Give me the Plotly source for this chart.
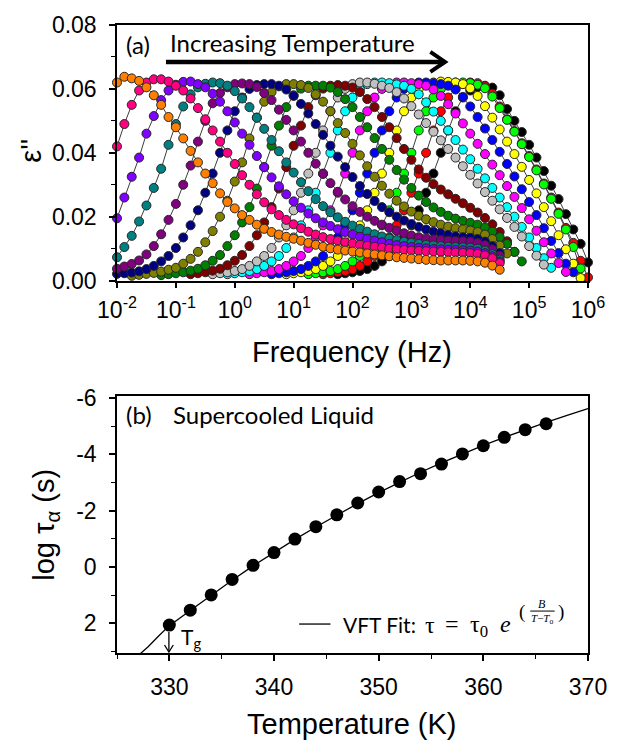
import plotly.graph_objects as go

# ---------------- Panel (a) data: dielectric loss spectra ----------------
# shared measurement grid (log10 of frequency in Hz)
FREQ_LOG = [-2.0, -1.875, -1.75, -1.625, -1.5, -1.375, -1.25, -1.125, -1.0, -0.875,
            -0.75, -0.625, -0.5, -0.375, -0.25, -0.125, 0.0, 0.125, 0.25, 0.375,
            0.5, 0.625, 0.75, 0.875, 1.0, 1.125, 1.25, 1.375, 1.5, 1.625,
            1.75, 1.875, 2.0, 2.125, 2.25, 2.375, 2.5, 2.625, 2.75, 2.875,
            3.0, 3.125, 3.25, 3.375, 3.5, 3.625, 3.75, 3.875, 4.0, 4.125,
            4.25, 4.375, 4.5, 4.625, 4.75, 4.875, 5.0, 5.125, 5.25, 5.375,
            5.5, 5.625, 5.75, 5.875, 6.0]

# eps'' values in units of 1e-3, each curve starts at grid index START_*
START_ORANGE = 0
EPS_ORANGE = [62, 63.8, 63.3, 62.5, 60.5, 58, 55, 51.2, 48, 44.5,
              40.6, 37, 33.5, 30.5, 27.3, 24.6, 22.6, 20.5, 19, 17.5,
              16.2, 15.2, 14.4, 13.7, 13.1, 12.5, 11.8, 11.2, 10.6, 10.1,
              9.7, 9.4, 9.1, 8.8, 8.5, 8.2, 7.9, 7.6, 7.3, 7.1,
              6.9, 6.7, 6.5, 6.4, 6.3, 6.3, 6.3, 6.3, 6.2, 6.0,
              5.6, 4.7, 3.4]
START_PINK = 0
EPS_PINK = [42, 49, 55, 59.5, 62, 63, 63, 62.3, 61, 59.5,
            57, 54, 50.5, 47, 43.5, 40, 36.5, 33, 30, 27,
            24.5, 22.3, 20.5, 19, 17.6, 16.4, 15.3, 14.4, 13.6, 13,
            12.5, 12, 11.6, 11.2, 10.9, 10.6, 10.3, 10, 9.8, 9.6,
            9.4, 9.3, 9.2, 9.1, 9.0, 8.9, 8.8, 8.7, 8.6, 8.4,
            7.9, 7.0, 5.5]
START_VIOLET = 0
EPS_VIOLET = [19.5, 26, 32.5, 38.5, 46, 51.5, 56.5, 59.5, 61.3, 62.2,
              62.3, 61.5, 60.5, 58.5, 56, 53, 49.5, 46, 42.5, 39,
              35.5, 32.3, 29.5, 27, 24.8, 22.8, 21, 19.5, 18.2, 17.1,
              16.1, 15.2, 14.4, 13.7, 13.1, 12.5, 12, 11.5, 11.1, 10.8,
              10.5, 10.3, 10.1, 9.9, 9.8, 9.7, 9.6, 9.5, 9.4, 9.1,
              8.6, 7.6, 6.0]
START_TEAL = 0
EPS_TEAL = [7.3, 10.5, 14, 18.5, 23.5, 29, 35, 42.5, 49, 54.5,
            58.3, 60.5, 61.6, 62, 61.8, 61, 59.3, 57, 54.3, 51,
            47.5, 44, 40.5, 37, 33.8, 30.8, 28, 25.5, 23.3, 21.4,
            19.8, 18.4, 17.2, 16.2, 15.3, 14.5, 13.8, 13.2, 12.7, 12.2,
            11.8, 11.5, 11.2, 11, 10.8, 10.6, 10.5, 10.4, 10.3, 10,
            9.4, 8.3, 6.6]
START_PURPLE = 0
EPS_PURPLE = [3.7, 4.4, 5.2, 6.3, 8.2, 10.8, 14.5, 19, 24, 30,
              36, 43.5, 50, 55.5, 58.7, 60.5, 61.5, 61.7, 61.5, 60.6,
              58.7, 56.5, 53.5, 50.3, 47, 43.5, 40, 36.6, 33.4, 30.5,
              27.8, 25.4, 23.3, 21.5, 20, 18.7, 17.5, 16.5, 15.6, 14.8,
              14.1, 13.6, 13.2, 12.9, 12.7, 12.5, 12.4, 12.3, 12.2, 11.8,
              11.1, 9.8, 7.8]
START_NAVY = 0
EPS_NAVY = [2.1, 2.3, 2.5, 2.9, 3.6, 4.6, 6.0, 7.7, 10.2, 13.5,
            17.3, 22, 27.5, 33.5, 40, 47, 53, 57.3, 60, 61.2,
            61.5, 61.5, 61, 59.8, 57.8, 55.3, 52.3, 49, 45.6, 42.2,
            38.8, 35.5, 32.4, 29.6, 27.1, 24.9, 23, 21.4, 20, 18.8,
            17.7, 16.8, 16, 15.3, 14.8, 14.3, 13.9, 13.6, 13.4, 13,
            12.2, 10.8, 8.6]
START_OLIVE = 2
EPS_OLIVE = [1.5, 1.8, 2.1, 2.4, 2.8, 3.4, 4.0, 5.3, 6.8, 9,
             12, 15.5, 20, 25, 31, 37, 44.5, 51, 56, 59,
             60.8, 61.5, 61.5, 61.2, 60.3, 58.3, 56, 53, 49.3, 46.2,
             42.8, 39.2, 35.8, 32.5, 29.7, 27.2, 25, 23.2, 21.6, 20.3,
             19.2, 18.3, 17.5, 16.9, 16.4, 16, 15.7, 15.2, 14.4, 13,
             11, 8.5]
START_GREEN = 6
EPS_GREEN = [1.7, 2.0, 2.3, 2.6, 3.1, 3.7, 4.8, 6.2, 8, 10.8,
             14.2, 18.2, 23, 28.8, 35.5, 42.2, 48.5, 54.3, 58, 60.1,
             61, 61, 61, 60.4, 59, 56.8, 54.3, 51.2, 48, 44.6,
             41.2, 37.8, 34.6, 31.6, 29, 26.6, 24.6, 22.9, 21.5, 20.3,
             19.4, 18.7, 18.1, 17.5, 16.6, 15.3, 13.6, 11.5, 9, 6]
START_DARKRED = 10
EPS_DARKRED = [2.0, 2.3, 2.6, 3.1, 3.7, 4.8, 6.2, 8, 10.8, 14.2,
               18.2, 23, 28.8, 35.5, 42.2, 48.5, 54.3, 58, 60.1, 61,
               61.2, 61, 60.4, 59, 56.8, 54.3, 51.2, 48, 44.6, 41.2,
               37.8, 34.8, 32.2, 30.2, 28.5, 27, 25.6, 24.2, 22.8, 21.3,
               19.6, 17.6, 15.2, 12.3, 9]
START_GRAY = 13
EPS_GRAY = [2.0, 2.3, 2.6, 3.0, 3.6, 4.6, 6.0, 7.7, 10.2, 13.5,
            17.3, 22, 27.5, 33.5, 40, 47, 53, 57.3, 60, 61.5,
            62, 62, 61.6, 61, 60.3, 59, 57, 54.6, 52, 49.3,
            46.6, 43.9, 41.2, 38.5, 35.8, 33.1, 30.4, 27.7, 25, 22.3,
            19.6, 16.8, 13.8, 10.8, 7.8, 5.0]
START_CYAN = 15
EPS_CYAN = [2.0, 2.3, 2.6, 3.0, 3.6, 4.6, 6.0, 7.7, 10.2, 13.5,
            17.3, 22, 27.5, 33.5, 40, 47, 53, 57.3, 60, 61.5,
            62, 62, 61.8, 61.4, 61, 60, 58.3, 55.8, 52.9, 50,
            47, 44, 41, 38, 35, 32, 29, 26, 23, 20,
            16.8, 13.5, 10.2, 7, 4]
START_MAGENTA = 18
EPS_MAGENTA = [2.0, 2.3, 2.6, 3.0, 3.6, 4.6, 6.0, 7.7, 10.2, 13.5,
               17.3, 22, 27.5, 33.5, 40, 47, 53, 57.3, 60, 61.5,
               62, 62, 61.8, 61.5, 61, 59.8, 57.8, 55.2, 52.3, 49.2,
               46, 42.8, 39.6, 36.3, 33, 29.6, 26.2, 22.7, 19.2, 15.6,
               12, 8.5, 5.5, 2.7]
START_BLUE = 21
EPS_BLUE = [2.0, 2.3, 2.6, 3.0, 3.6, 4.6, 6.0, 7.7, 10.2, 13.5,
            17.3, 22, 27.5, 33.5, 40, 47, 53, 57.3, 60, 61.5,
            62, 62, 61.8, 61.5, 61, 59.8, 57.5, 54.5, 51.2, 47.6,
            44, 40.3, 36.5, 32.6, 28.6, 24.6, 20.5, 16.4, 12.4, 8.6,
            5.3, 2.6]
START_YELLOW = 23
EPS_YELLOW = [2.0, 2.3, 2.6, 3.0, 3.6, 4.6, 6.0, 7.7, 10.2, 13.5,
              17.3, 22, 27.5, 33.5, 40, 47, 53, 57.3, 60, 61.5,
              62, 62.3, 62.2, 62, 61.5, 60.2, 57.8, 54.6, 51, 47.3,
              43.5, 39.6, 35.6, 31.5, 27.3, 23, 18.6, 14.2, 9.8, 5.3,
              0.8]
START_LIME = 26
EPS_LIME = [2.0, 2.3, 2.6, 3.0, 3.6, 4.6, 6.0, 7.7, 10.2, 13.5,
            17.3, 22, 27.5, 33.5, 40, 47, 53, 57.3, 60, 61.5,
            62, 62, 61.8, 61.3, 60.2, 57.6, 54, 50.3, 46.6, 42.7,
            38.7, 34.5, 30.1, 25.6, 20.9, 16, 10.5, 3.8]
START_RED = 28
EPS_RED = [2.0, 2.3, 2.6, 3.0, 3.6, 4.6, 6.0, 7.7, 10.2, 13.5,
           17.3, 22, 27.5, 33.5, 40, 47, 53, 57.3, 60, 61.5,
           62, 61.8, 60.8, 58.5, 54.5, 50.5, 46.8, 43, 39, 34.8,
           30.4, 26, 21.3, 16.5, 11.8, 6.2, 1.0]
START_BLACK = 30
EPS_BLACK = [2.0, 2.3, 2.6, 3.0, 3.6, 4.6, 6.0, 7.7, 10.2, 13.5,
             17.3, 22, 27.5, 33.5, 40, 47, 53, 57.3, 59.5, 60.6,
             61, 60.4, 58, 53.7, 50, 46.5, 42.5, 38.5, 34.3, 29.7,
             25.5, 20.8, 16, 11.5, 5.7]

# ---------------- Panel (b) data ----------------
TEMPS = [330, 332, 334, 336, 338, 340, 342, 344, 346, 348,
         350, 352, 354, 356, 358, 360, 362, 364, 366]
LOG_TAU = [2.06, 1.53, 0.99, 0.44, -0.06, -0.51, -0.99, -1.43, -1.85, -2.27,
           -2.66, -3.03, -3.31, -3.65, -4.01, -4.30, -4.60, -4.87, -5.08]
FIT_T = [327, 328, 329, 330, 332, 334, 336, 338, 340, 342, 344, 346, 348,
         350, 352, 354, 356, 358, 360, 362, 364, 366, 368, 370]
FIT_LOG_TAU = [3.15, 2.82, 2.44, 2.08, 1.54, 1.0, 0.47, -0.04, -0.52, -0.98,
               -1.42, -1.84, -2.25, -2.64, -3.01, -3.36, -3.69, -4.01, -4.31,
               -4.6, -4.87, -5.13, -5.38, -5.62]

X_TICKS_A = [1e-2, 1e-1, 1e0, 1e1, 1e2, 1e3, 1e4, 1e5, 1e6]
X_TICKTEXT_A = ["10<sup>-2</sup>", "10<sup>-1</sup>", "10<sup>0</sup>", "10<sup>1</sup>",
                "10<sup>2</sup>", "10<sup>3</sup>", "10<sup>4</sup>", "10<sup>5</sup>",
                "10<sup>6</sup>"]
Y_TICKS_A = [0.0, 0.02, 0.04, 0.06, 0.08]
Y_TICKTEXT_A = ["0.00", "0.02", "0.04", "0.06", "0.08"]
X_TICKS_B = [330, 340, 350, 360, 370]
Y_TICKS_B = [-6, -4, -2, 0, 2]
Y_TICKTEXT_B = ["-6", "-4", "-2", "0", "2"]

# curves drawn hottest first so the coldest sits on top
CURVES = [
    ("#000000", START_BLACK, EPS_BLACK),
    ("#FF0000", START_RED, EPS_RED),
    ("#00FF00", START_LIME, EPS_LIME),
    ("#FFFF00", START_YELLOW, EPS_YELLOW),
    ("#0000FF", START_BLUE, EPS_BLUE),
    ("#FF00FF", START_MAGENTA, EPS_MAGENTA),
    ("#00FFFF", START_CYAN, EPS_CYAN),
    ("#C0C0C0", START_GRAY, EPS_GRAY),
    ("#800000", START_DARKRED, EPS_DARKRED),
    ("#008000", START_GREEN, EPS_GREEN),
    ("#808000", START_OLIVE, EPS_OLIVE),
    ("#000080", START_NAVY, EPS_NAVY),
    ("#800080", START_PURPLE, EPS_PURPLE),
    ("#008080", START_TEAL, EPS_TEAL),
    ("#8000FF", START_VIOLET, EPS_VIOLET),
    ("#FF0080", START_PINK, EPS_PINK),
    ("#FF8000", START_ORANGE, EPS_ORANGE),
]

W, H = 619, 742
ML, MR, MT, MB = 117, 21, 24, 89


def px(x):
    return (x - ML) / (W - ML - MR)


def py(y):
    return (H - MB - y) / (H - MT - MB)


fig = go.Figure()

for color, start, vals in CURVES:
    logs = FREQ_LOG[start:start + len(vals)]
    fig.add_trace(go.Scatter(
        x=[10 ** v for v in logs], y=[v * 1e-3 for v in vals[:len(logs)]],
        mode="lines+markers", xaxis="x", yaxis="y",
        line=dict(color="#3c3c3c", width=1),
        marker=dict(size=9, color=color, line=dict(color="#262626", width=1)),
        cliponaxis=False, showlegend=False, hoverinfo="skip"))

fig.add_trace(go.Scatter(x=FIT_T, y=FIT_LOG_TAU, mode="lines", xaxis="x2", yaxis="y2",
                         line=dict(color="black", width=1.3), showlegend=False))
fig.add_trace(go.Scatter(x=TEMPS, y=LOG_TAU, mode="markers", xaxis="x2", yaxis="y2",
                         marker=dict(size=13, color="black"), cliponaxis=False,
                         showlegend=False))

TICKFONT = dict(family="Liberation Sans, Arial", size=23, color="black")
axis_common = dict(showline=True, linecolor="black", linewidth=1.5, mirror=True,
                   ticks="outside", ticklen=6, tickwidth=1.5, tickcolor="black",
                   showgrid=False, zeroline=False, tickfont=TICKFONT)

fig.update_layout(
    width=W, height=H, margin=dict(l=ML, r=MR, t=MT, b=MB),
    paper_bgcolor="white", plot_bgcolor="white", showlegend=False,
    xaxis=dict(axis_common, type="log", range=[-2, 6], domain=[0, 1], anchor="y",
               tickmode="array", tickvals=X_TICKS_A, ticktext=X_TICKTEXT_A,
               ticklabelstandoff=2),
    yaxis=dict(axis_common, range=[0, 0.08], domain=[py(280), 1], anchor="x",
               tickmode="array", tickvals=Y_TICKS_A, ticktext=Y_TICKTEXT_A,
               ticklabelstandoff=8,
               minor=dict(ticks="outside", ticklen=4, tickwidth=1, tickcolor="black",
                          dtick=0.01, tick0=0)),
    xaxis2=dict(axis_common, range=[325, 370], domain=[0, 1], anchor="y2",
                tickmode="array", tickvals=X_TICKS_B, ticklabelstandoff=7,
                minor=dict(ticks="outside", ticklen=4, tickwidth=1, tickcolor="black",
                           dtick=5, tick0=325)),
    yaxis2=dict(axis_common, range=[3.05, -6.05], domain=[0, py(396)], anchor="x2",
                tickmode="array", tickvals=Y_TICKS_B, ticktext=Y_TICKTEXT_B,
                ticklabelstandoff=8,
                minor=dict(ticks="outside", ticklen=4, tickwidth=1, tickcolor="black",
                           dtick=1, tick0=0)),
)

TITLEFONT = dict(family="Liberation Sans, Arial", size=29, color="black")
LABELFONT = dict(family="Lato, Open Sans", size=24, color="black")
SERIF = "Liberation Serif, DejaVu Serif"
MATHFONT = dict(family=SERIF, size=24, color="black")

ann = []
# axis titles
ann.append(dict(text="ε''", x=px(29), y=py(150), textangle=-90, font=TITLEFONT))
ann.append(dict(text="Frequency (Hz)", x=px(357), y=py(352), font=TITLEFONT))
ann.append(dict(text="log τ<sub>α</sub> (s)", x=px(45), y=py(524), textangle=-90, font=TITLEFONT))
ann.append(dict(text="Temperature (K)", x=px(357), y=py(724), font=TITLEFONT))
# panel labels
ann.append(dict(text="(a)", x=px(124), y=py(44), xanchor="left", font=LABELFONT))
ann.append(dict(text="Increasing Temperature", x=px(169), y=py(42), xanchor="left", font=LABELFONT))
ann.append(dict(text="(b)", x=px(124), y=py(414), xanchor="left", font=LABELFONT))
ann.append(dict(text="Supercooled Liquid", x=px(172), y=py(414), xanchor="left", font=LABELFONT))
# legend text with VFT equation
ann.append(dict(text="VFT Fit:", x=px(346), y=py(624), xanchor="left",
                font=dict(family="Lato, Open Sans", size=21, color="black")))
ann.append(dict(text="τ", x=px(437), y=py(625), font=MATHFONT))
ann.append(dict(text="=", x=px(459), y=py(624), font=MATHFONT))
ann.append(dict(text="τ<sub>0</sub>", x=px(475), y=py(626), xanchor="left", font=MATHFONT))
ann.append(dict(text="<i>e</i>", x=px(514), y=py(624), font=MATHFONT))
ann.append(dict(text="(", x=px(531), y=py(612), font=dict(family=SERIF, size=19, color="black")))
ann.append(dict(text=")", x=px(570), y=py(612), font=dict(family=SERIF, size=19, color="black")))
ann.append(dict(text="<i>B</i>", x=px(551), y=py(604), font=dict(family=SERIF, size=12, color="black")))
ann.append(dict(text="<i>T</i>−<i>T</i><sub>o</sub>", x=px(551), y=py(619),
                font=dict(family=SERIF, size=11, color="black")))
# Tg label
ann.append(dict(text="T<sub>g</sub>", x=px(180), y=py(638), xanchor="left",
                font=dict(family="Lato, Open Sans", size=21, color="black")))

for a in ann:
    a.setdefault("xref", "paper")
    a.setdefault("yref", "paper")
    a.setdefault("showarrow", False)
    a.setdefault("xanchor", "center")
    a.setdefault("yanchor", "middle")
fig.update_layout(annotations=ann)

shapes = []
# "Increasing Temperature" arrow
shapes.append(dict(type="line", xref="paper", yref="paper", x0=px(167), x1=px(449),
                   y0=py(61), y1=py(61), line=dict(color="black", width=4.5)))
shapes.append(dict(type="path", xref="paper", yref="paper",
                   path=f"M {px(437)},{py(51)} L {px(452)},{py(61)} L {px(437)},{py(71)}",
                   line=dict(color="black", width=4)))
# legend line
shapes.append(dict(type="line", xref="paper", yref="paper", x0=px(303), x1=px(335),
                   y0=py(624), y1=py(624), line=dict(color="black", width=1.3)))
# fraction bar in exponent
shapes.append(dict(type="line", xref="paper", yref="paper", x0=px(539), x1=px(564),
                   y0=py(611), y1=py(611), line=dict(color="black", width=1)))
# Tg arrow
shapes.append(dict(type="line", xref="paper", yref="paper", x0=px(170), x1=px(170),
                   y0=py(632), y1=py(652), line=dict(color="black", width=1.3)))
shapes.append(dict(type="path", xref="paper", yref="paper",
                   path=f"M {px(165.5)},{py(645)} L {px(170)},{py(652)} L {px(174.5)},{py(645)}",
                   line=dict(color="black", width=1.3)))
fig.update_layout(shapes=shapes)

fig.write_html("out.html")
